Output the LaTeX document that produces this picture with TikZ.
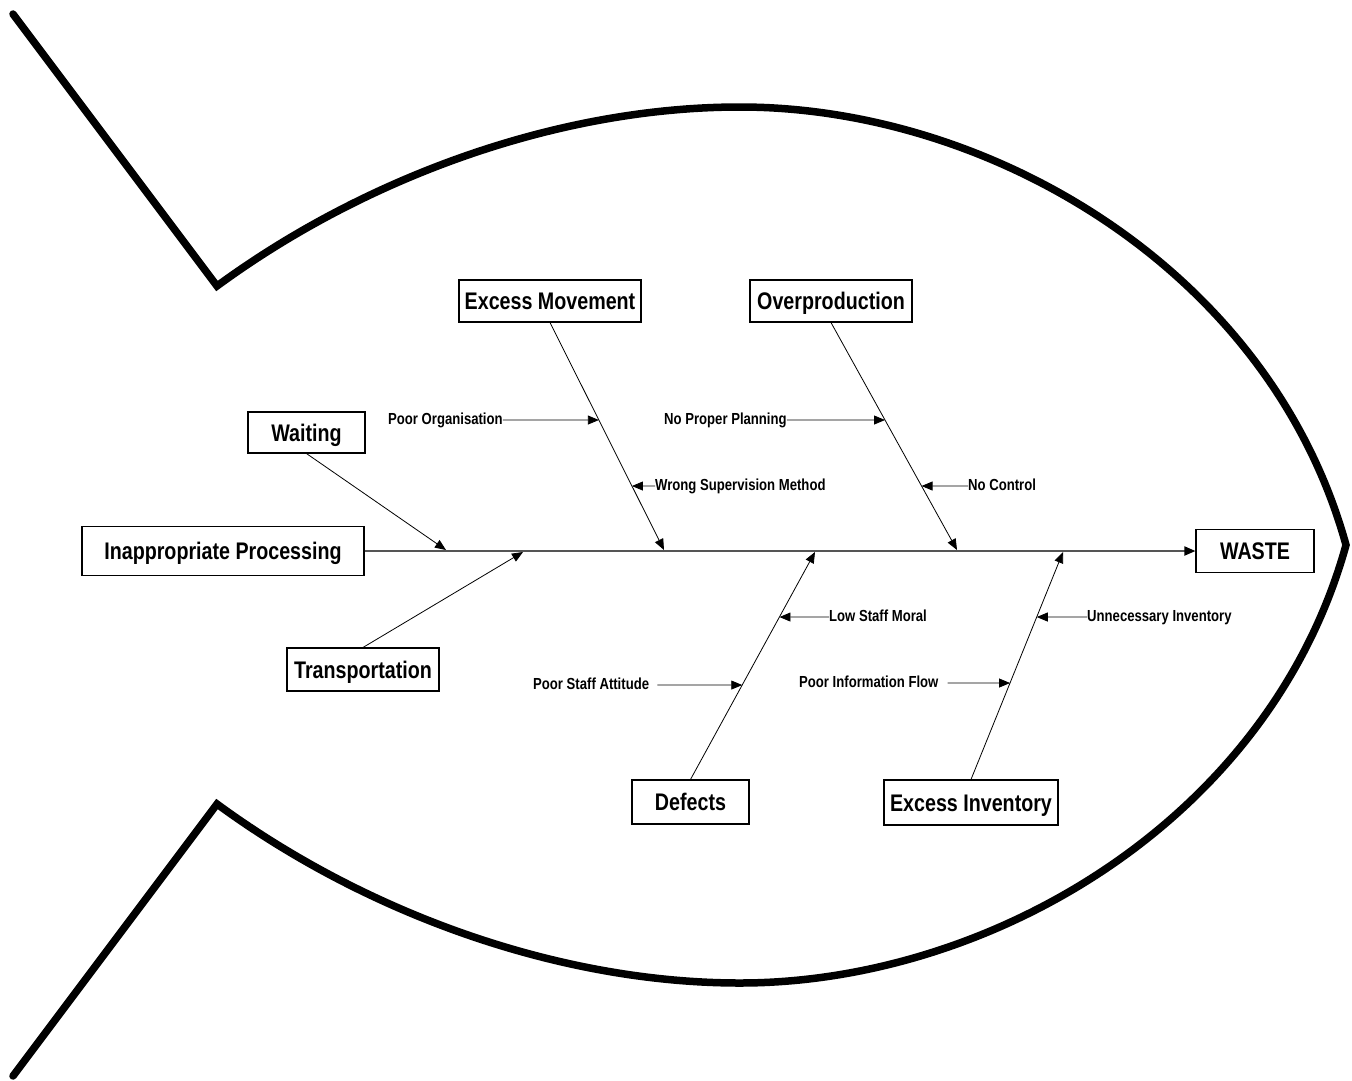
\documentclass[tikz,border=0pt]{standalone}
\usepackage{fontspec}
\setmainfont[FakeStretch=0.82]{Liberation Sans}
\usetikzlibrary{arrows.meta}
\definecolor{spinecol}{RGB}{85,85,85}
\tikzset{
  fish/.style={line width=7.5pt, line cap=round, line join=miter},
  cause/.style={draw, line width=1.1pt, font=\bfseries\fontsize{24}{28}\selectfont, inner sep=0pt, text height=20pt, text depth=3pt},
  sublabel/.style={font=\bfseries\fontsize{16}{19}\selectfont, inner sep=0pt, text height=11.5pt, text depth=3.5pt},
  tip/.style={-{Triangle[length=11pt,width=9pt]}},
  bone/.style={tip, line width=0.8pt},
  subarrow/.style={tip, line width=0.8pt},
  spine/.style={-{Triangle[length=11pt,width=9pt,color=black]}, line width=1.8pt, draw=spinecol}
}
\begin{document}
\begin{tikzpicture}[x=1pt,y=-1pt]
\useasboundingbox (0,0) rectangle (1352,1080);
% fish outline
\draw[fish] (13,14) -- (217,286)
  .. controls (367,176) and (560,107) .. (740,107)
  .. controls (990,107) and (1270,270) .. (1346,545)
  .. controls (1270,820) and (990,983) .. (740,983)
  .. controls (560,983) and (367,914) .. (217,804)
  -- (13,1076);
% boxes
\node[cause, minimum width=282pt, minimum height=49pt] (ip) at (223,551) {Inappropriate Processing};
\node[cause, minimum width=117pt, minimum height=41pt] (wait) at (306.5,432.5) {Waiting};
\node[cause, minimum width=152pt, minimum height=43pt] (trans) at (363,669.5) {Transportation};
\node[cause, minimum width=182pt, minimum height=42pt] (em) at (550,301) {Excess Movement};
\node[cause, minimum width=162pt, minimum height=42pt] (over) at (831,301) {Overproduction};
\node[cause, minimum width=117pt, minimum height=44pt] (def) at (690.5,802) {Defects};
\node[cause, minimum width=174pt, minimum height=45pt] (ei) at (971,802.5) {Excess Inventory};
\node[cause, minimum width=118pt, minimum height=43pt] (waste) at (1255,551) {WASTE};
% spine
\draw[spine] (ip.east) -- (waste.west);
% spine hit points
\coordinate (hw) at (446,550);
\coordinate (ht) at (523,552);
\coordinate (hem) at (664,550);
\coordinate (hov) at (957,550);
\coordinate (hdef) at (815,552);
\coordinate (hei) at (1063,552);
% bones
\draw[bone] (wait.south) -- (hw);
\draw[bone] (trans.north) -- (ht);
\draw[bone] (em.south) -- (hem);
\draw[bone] (over.south) -- (hov);
\draw[bone] (def.north) -- (hdef);
\draw[bone] (ei.north) -- (hei);
% sub-cause points on bones
\coordinate (p1) at (intersection of em.south--hem and 0,420--100,420);
\coordinate (p2) at (intersection of em.south--hem and 0,486--100,486);
\coordinate (p3) at (intersection of over.south--hov and 0,420--100,420);
\coordinate (p4) at (intersection of over.south--hov and 0,486--100,486);
\coordinate (p5) at (intersection of def.north--hdef and 0,617--100,617);
\coordinate (p6) at (intersection of def.north--hdef and 0,685--100,685);
\coordinate (p7) at (intersection of ei.north--hei and 0,617--100,617);
\coordinate (p8) at (intersection of ei.north--hei and 0,683--100,683);
% sub-cause labels
\node[sublabel, anchor=west] (l1) at (388,420) {Poor Organisation};
\node[sublabel, anchor=west] (l2) at (655,486) {Wrong Supervision Method};
\node[sublabel, anchor=west] (l3) at (664,420) {No Proper Planning};
\node[sublabel, anchor=west] (l4) at (968,486) {No Control};
\node[sublabel, anchor=west] (l5) at (829,617) {Low Staff Moral};
\node[sublabel, anchor=west] (l6) at (533,685) {Poor Staff Attitude};
\node[sublabel, anchor=west] (l7) at (1087,617) {Unnecessary Inventory};
\node[sublabel, anchor=west] (l8) at (799,683) {Poor Information Flow};
% sub-cause arrows
\draw[subarrow] (l1.east) -- (p1);
\draw[subarrow] (l2.west) -- (p2);
\draw[subarrow] (l3.east) -- (p3);
\draw[subarrow] (l4.west) -- (p4);
\draw[subarrow] (l5.west) -- (p5);
\draw[subarrow, shorten <=8pt] (l6.east) -- (p6);
\draw[subarrow] (l7.west) -- (p7);
\draw[subarrow, shorten <=9pt] (l8.east) -- (p8);
\end{tikzpicture}
\end{document}
